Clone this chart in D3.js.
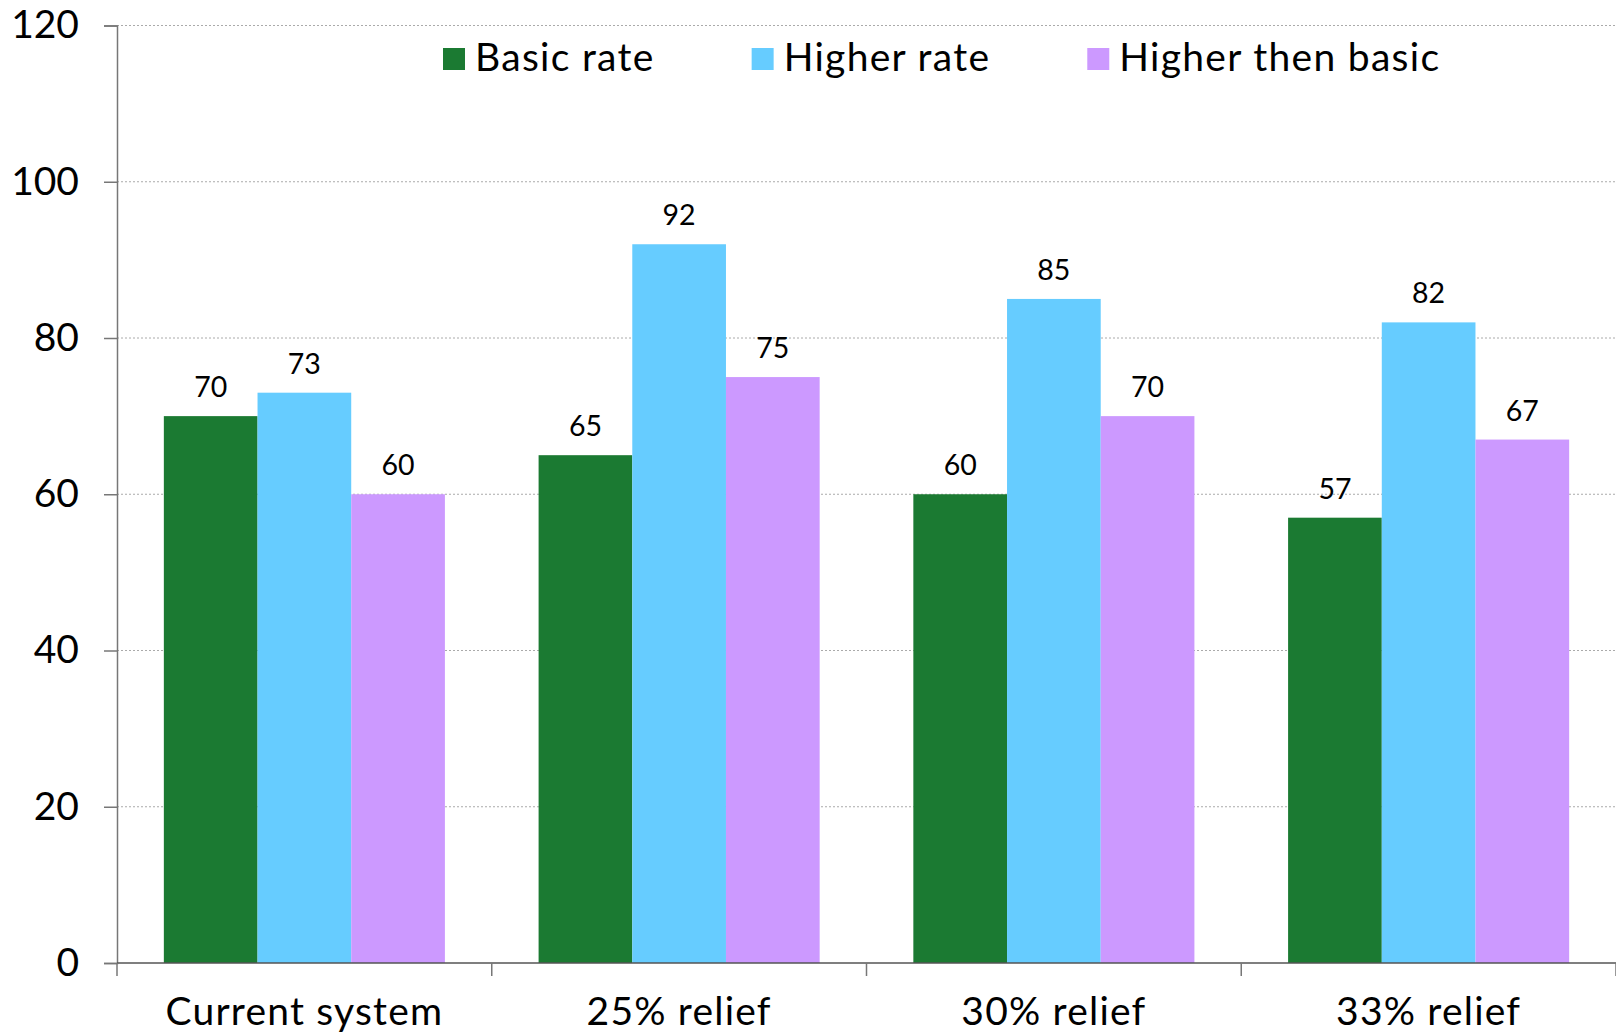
<!DOCTYPE html>
<html>
<head>
<meta charset="utf-8">
<script src="https://cdn.jsdelivr.net/npm/d3@7"></script>
<style>
  html, body { margin: 0; padding: 0; background: #fff; }
  svg { display: block; font-family: Lato, "Open Sans", sans-serif; }
</style>
</head>
<body>
<svg id="chart" width="1616" height="1034"></svg>
<script>
// Categories and series
const categories = ["Current system", "25% relief", "30% relief", "33% relief"];
const seriesNames = ["Basic rate", "Higher rate", "Higher then basic"];
const basicRate = [70, 65, 60, 57];
const higherRate = [73, 92, 85, 82];
const higherThenBasic = [60, 75, 70, 67];
const yTicks = [0, 20, 40, 60, 80, 100, 120];
const colors = ["#1b7a32", "#66ccff", "#cc99ff"];

const seriesValues = [basicRate, higherRate, higherThenBasic];

const plotLeft = 117, plotRight = 1616, plotTop = 25.5, plotBottom = 963;

const svg = d3.select("#chart");

const x = d3.scaleBand().domain(categories).range([plotLeft, plotRight]).padding(0);
const inner = d3.scaleBand().domain(seriesNames)
  .range([0, x.bandwidth()]).paddingInner(0).paddingOuter(0.5);
const y = d3.scaleLinear().domain([0, 120]).range([plotBottom, plotTop]);

// Gridlines
svg.append("g")
  .selectAll("line")
  .data(yTicks.filter(d => d > 0))
  .join("line")
  .attr("x1", plotLeft).attr("x2", plotRight)
  .attr("y1", d => y(d)).attr("y2", d => y(d))
  .attr("stroke", "#aaa").attr("stroke-width", 1)
  .attr("stroke-dasharray", "2,2");

// Bars
const groups = svg.append("g")
  .selectAll("g")
  .data(categories)
  .join("g")
  .attr("transform", d => `translate(${x(d)},0)`);

const cells = (c, i) => seriesNames.map((s, k) => ({ s, k, v: seriesValues[k][i] }));

groups.selectAll("rect")
  .data(cells)
  .join("rect")
  .attr("x", d => inner(d.s))
  .attr("y", d => y(d.v))
  .attr("width", inner.bandwidth())
  .attr("height", d => y(0) - y(d.v))
  .attr("fill", d => colors[d.k]);

// Value labels
groups.selectAll("text")
  .data(cells)
  .join("text")
  .attr("x", d => inner(d.s) + inner.bandwidth() / 2)
  .attr("y", d => y(d.v) - 19)
  .attr("text-anchor", "middle")
  .attr("font-size", 28.5)
  .attr("fill", "#000")
  .text(d => d.v);

// Y axis
const yAxis = d3.axisLeft(y).tickValues(yTicks).tickSize(13).tickPadding(25);
const gy = svg.append("g").attr("transform", `translate(${plotLeft},0)`).call(yAxis);
gy.select(".domain").attr("stroke", "#777").attr("stroke-width", 1.5);
gy.selectAll(".tick line").attr("stroke", "#777").attr("stroke-width", 1.5);
gy.selectAll(".tick text").attr("font-size", 39).attr("font-family", "Lato").attr("fill", "#000");

// X axis: ticks at category boundaries
const boundaries = categories.map(c => x(c)).concat([plotRight]);
svg.append("line")
  .attr("x1", plotLeft).attr("x2", plotRight)
  .attr("y1", y(0)).attr("y2", y(0))
  .attr("stroke", "#555").attr("stroke-width", 1.5);
svg.append("g")
  .selectAll("line")
  .data(boundaries)
  .join("line")
  .attr("x1", d => d).attr("x2", d => d)
  .attr("y1", y(0)).attr("y2", y(0) + 13)
  .attr("stroke", "#777").attr("stroke-width", 1.5);

svg.append("g")
  .selectAll("text")
  .data(categories)
  .join("text")
  .attr("x", d => x(d) + x.bandwidth() / 2)
  .attr("y", 1025)
  .attr("text-anchor", "middle")
  .attr("font-size", 39)
  .attr("letter-spacing", 1.2)
  .attr("fill", "#000")
  .text(d => d);

// Legend
const legend = svg.append("g");
let lx = 443;
seriesNames.forEach((name, k) => {
  legend.append("rect")
    .attr("x", lx).attr("y", 48)
    .attr("width", 22).attr("height", 22)
    .attr("fill", colors[k]);
  const t = legend.append("text")
    .attr("x", lx + 32).attr("y", 71)
    .attr("font-size", 39)
    .attr("letter-spacing", 1.3)
    .attr("fill", "#000")
    .text(name);
  lx += 32 + t.node().getComputedTextLength() + 97;
});
</script>
</body>
</html>
